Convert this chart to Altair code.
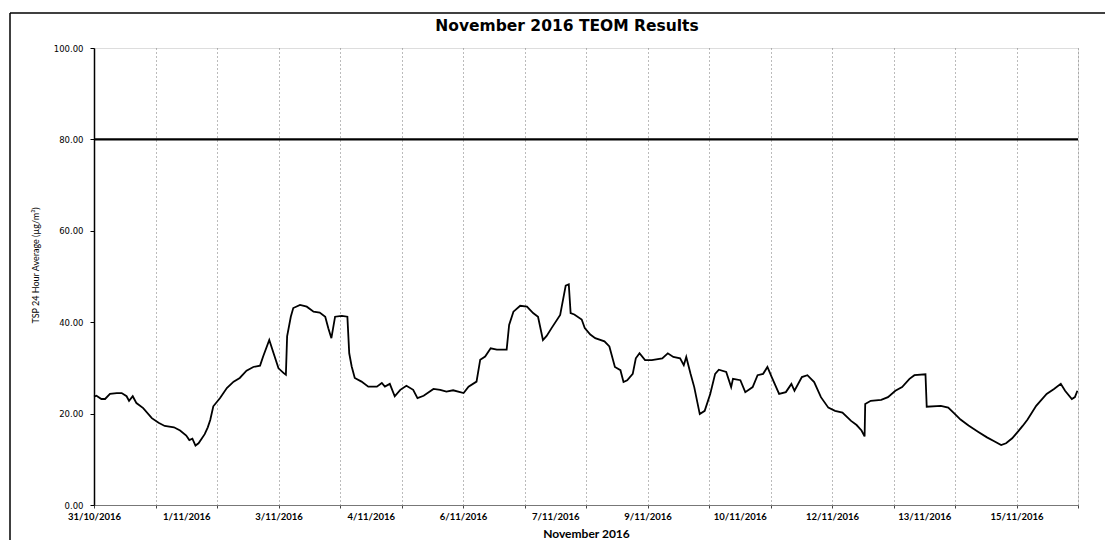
import altair as alt
import pandas as pd

title_text = "November 2016 TEOM Results"
y_title = "TSP 24 Hour Average (µg/m³)"
x_title = "November 2016"
start = "2016-10-31T00:00:00"
n_days = 16

day_offsets = [
    0.00, 0.04, 0.12, 0.18, 0.26, 0.37, 0.45, 0.53, 0.57, 0.63, 0.69, 0.80, 0.94,
    1.05, 1.15, 1.30, 1.40, 1.50, 1.55, 1.60, 1.65, 1.70, 1.75, 1.80, 1.85, 1.89, 1.94,
    2.05, 2.16, 2.27, 2.37, 2.48, 2.59, 2.70, 2.75, 2.85, 2.92, 3.00, 3.08, 3.12, 3.14,
    3.20, 3.24, 3.35, 3.46, 3.57, 3.67, 3.76, 3.81, 3.86, 3.92, 4.03, 4.12, 4.15, 4.19,
    4.24, 4.35, 4.46, 4.60, 4.68, 4.73, 4.81, 4.89, 4.98, 5.08, 5.19, 5.26, 5.36, 5.52,
    5.63, 5.73, 5.84, 6.01, 6.09, 6.22, 6.28, 6.36, 6.45, 6.55, 6.71, 6.75, 6.82, 6.93,
    7.04, 7.14, 7.22, 7.30, 7.36, 7.44, 7.58, 7.67, 7.72, 7.75, 7.81, 7.93, 7.98, 8.07,
    8.15, 8.30, 8.38, 8.47, 8.56, 8.61, 8.67, 8.76, 8.81, 8.87, 8.96, 9.07, 9.24, 9.33,
    9.42, 9.53, 9.59, 9.63, 9.70, 9.76, 9.85, 9.93, 10.02, 10.10, 10.16, 10.28, 10.36,
    10.39, 10.51, 10.59, 10.71, 10.79, 10.88, 10.95, 11.02, 11.14, 11.25, 11.34, 11.39,
    11.51, 11.60, 11.71, 11.82, 11.94, 12.05, 12.17, 12.31, 12.40, 12.48, 12.53, 12.54,
    12.63, 12.80, 12.91, 13.03, 13.14, 13.26, 13.34, 13.52, 13.54, 13.77, 13.89, 14.00,
    14.09, 14.22, 14.38, 14.52, 14.63, 14.75, 14.83, 14.93, 15.02, 15.10, 15.18, 15.32,
    15.49, 15.61, 15.72, 15.79, 15.90, 15.95, 15.99,
]
tsp_values = [
    23.7, 23.9, 23.2, 23.2, 24.3, 24.5, 24.5, 23.8, 22.8, 23.8, 22.3, 21.2, 19.0,
    18.0, 17.3, 17.0, 16.3, 15.2, 14.2, 14.5, 13.0, 13.5, 14.5, 15.5, 17.0, 18.6, 21.6,
    23.4, 25.6, 27.0, 27.8, 29.4, 30.2, 30.5, 32.5, 36.1, 33.2, 29.9, 28.9, 28.5, 36.9,
    41.2, 43.1, 43.8, 43.4, 42.3, 42.1, 41.2, 38.7, 36.5, 41.2, 41.4, 41.2, 33.2, 30.3,
    27.8, 27.0, 25.9, 25.9, 26.7, 25.9, 26.5, 23.8, 25.2, 26.1, 25.2, 23.4, 23.9, 25.4,
    25.2, 24.8, 25.1, 24.5, 25.9, 27.0, 31.8, 32.5, 34.3, 34.0, 34.0, 39.4, 42.3, 43.6,
    43.4, 42.0, 41.2, 36.1, 37.0, 38.7, 41.6, 48.0, 48.3, 42.0, 41.7, 40.6, 38.7, 37.3,
    36.5, 35.8, 34.7, 30.2, 29.5, 26.9, 27.3, 28.7, 32.1, 33.2, 31.7, 31.7, 32.1, 33.2,
    32.4, 32.1, 30.6, 32.4, 28.7, 25.8, 19.9, 20.6, 24.3, 28.7, 29.6, 29.1, 25.8,
    27.6, 27.3, 24.7, 25.8, 28.4, 28.7, 30.2, 28.0, 24.3, 24.7, 26.5, 25.0,
    28.0, 28.4, 26.9, 23.6, 21.3, 20.6, 20.2, 18.4, 17.5, 16.3, 15.0, 22.1,
    22.8, 23.0, 23.6, 25.0, 25.8, 27.6, 28.4, 28.6, 21.5, 21.7, 21.3, 19.9,
    18.7, 17.4, 16.0, 14.8, 14.0, 13.1, 13.5, 14.6, 16.0, 17.3, 18.7, 21.7,
    24.3, 25.4, 26.5, 25.0, 23.2, 23.6, 25.0,
]
criterion = [80.0]
y_ticks = [0, 20, 40, 60, 80, 100]
label_step_days = 1.5

t0 = pd.Timestamp(start)
df = pd.DataFrame({
    "time": [(t0 + pd.Timedelta(days=d)).strftime("%Y-%m-%dT%H:%M:%S") for d in day_offsets],
    "tsp": tsp_values,
})


def dt(ts):
    return alt.DateTime(year=ts.year, month=ts.month, date=ts.day, hours=ts.hour)


axis_days = sorted(set([float(d) for d in range(n_days + 1)] +
                       [i * label_step_days for i in range(int(n_days / label_step_days) + 1)]))
axis_values = [dt(t0 + pd.Timedelta(days=d)) for d in axis_days]
domain = [dt(t0), dt(t0 + pd.Timedelta(days=n_days))]

daily = {"condition": {"test": "hours(datum.value) == 0", "value": 1}, "value": 0}
label_expr = ("((datum.value - datetime(2016, 9, 31)) % 129600000) == 0 ? "
              "timeFormat(datum.value, '%-d/%m/%Y') : ''")

W, H = 984, 457

x_enc = alt.X(
    "time:T",
    scale=alt.Scale(domain=domain),
    axis=alt.Axis(
        values=axis_values, labelExpr=label_expr, labelOverlap=False, labelFlush=False,
        grid=True, gridOpacity=daily, gridDash=[1, 3], gridColor="#777", gridWidth=1,
        tickOpacity=daily, tickColor="#444", tickSize=3,
        domainColor="#777", domainWidth=1,
        labelFont="Lato", labelFontSize=9.5, labelFontWeight="bold", labelColor="black",
        labelPadding=3,
        title=x_title, titleFont="Lato", titleFontSize=12, titleFontWeight="bold",
        titleColor="black", titleY=28, titleBaseline="middle",
    ),
)
y_scale = alt.Scale(domain=[0, 100], nice=False)
y_axis = alt.Axis(
    values=y_ticks, format=".2f", grid=False,
    domainColor="black", domainWidth=1.5, tickColor="black", tickSize=4,
    labelFont="DejaVu Sans", labelFontSize=8.5, labelColor="black", labelPadding=7,
    title=y_title, titleFont="Lato", titleFontSize=9, titleFontWeight="normal",
    titleColor="black", titleX=-59, titleY=217, titleBaseline="middle",
)

line = alt.Chart(df).mark_line(color="black", strokeWidth=1.8).encode(
    x=x_enc,
    y=alt.Y("tsp:Q", scale=y_scale, axis=y_axis),
)

limit = alt.Chart(pd.DataFrame({"limit": criterion})).mark_rule(
    color="black", strokeWidth=2.2
).encode(y=alt.Y("limit:Q", scale=y_scale))

frame_df = pd.DataFrame({"a": [0]})
border_top = alt.Chart(frame_df).mark_rule(color="black", strokeWidth=1.5).encode(
    x=alt.value(-84), x2=alt.value(W + 40), y=alt.value(-35)
)
border_left = alt.Chart(frame_df).mark_rule(color="black", strokeWidth=1.5).encode(
    x=alt.value(-84), y=alt.value(-35), y2=alt.value(H + 60)
)

title_mark = alt.Chart(pd.DataFrame({"t": [title_text]})).mark_text(
    font="DejaVu Sans", fontSize=15.5, fontWeight="bold", color="black",
    align="center", baseline="middle",
).encode(text="t:N", x=alt.value(473), y=alt.value(-22))

chart = alt.layer(border_top, border_left, title_mark, limit, line).properties(
    width=W, height=H,
    autosize=alt.AutoSizeParams(type="none"),
    padding={"left": 86, "top": 40, "right": 27, "bottom": 35},
).configure_view(stroke=None).configure(background="white")

chart.save("out.html", embed_options={"renderer": "svg", "actions": False})
